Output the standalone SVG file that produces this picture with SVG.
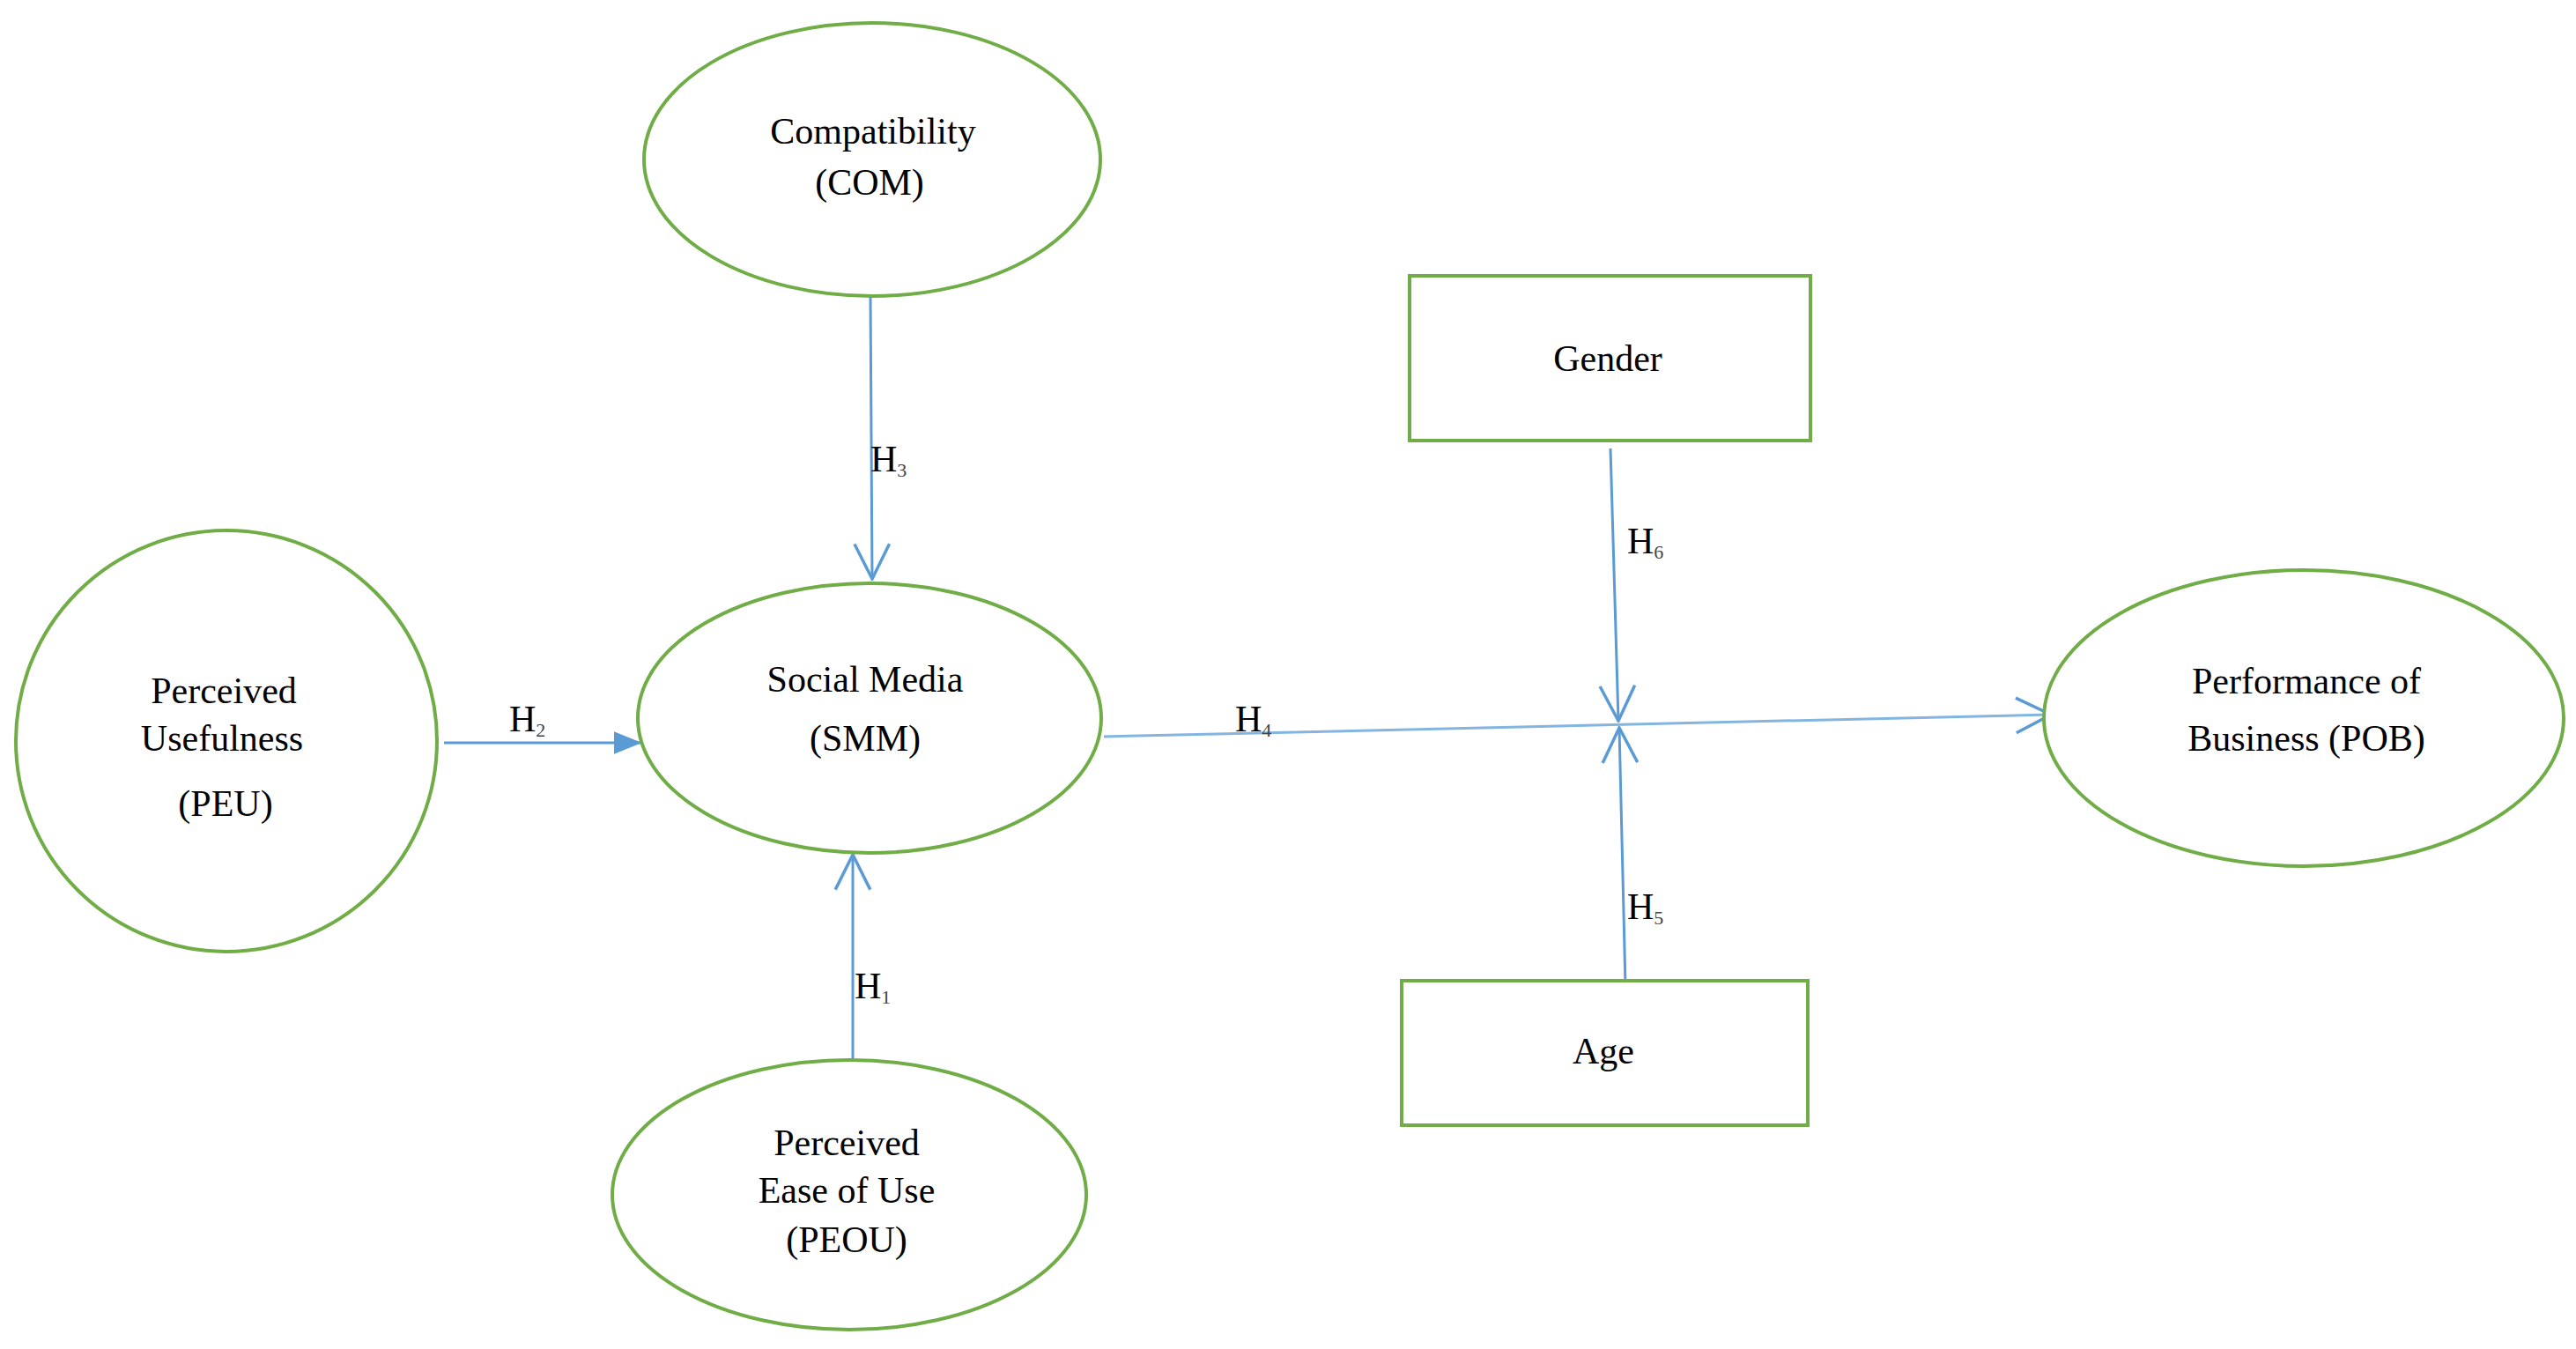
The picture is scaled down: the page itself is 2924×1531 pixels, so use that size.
<svg xmlns="http://www.w3.org/2000/svg" width="2924" height="1531" viewBox="0 0 2924 1531">
<style>
.n{fill:#fff;stroke:#70ad47;stroke-width:4}
.t{font-family:"Liberation Serif",serif;font-size:42px;fill:#000;text-anchor:middle}
.h{font-family:"Liberation Serif",serif;font-size:42px;fill:#000}
.s{font-size:22px;fill:#444}
.c{stroke:#5b9bd5;stroke-width:3;fill:none}
</style>
<defs>
<marker id="o" viewBox="0 0 20 20" refX="19" refY="10" markerWidth="44" markerHeight="44" markerUnits="userSpaceOnUse" orient="auto"><path d="M1,1 L19,10 L1,19" fill="none" stroke="#5b9bd5" stroke-width="1.6"/></marker>
<marker id="f" viewBox="0 0 20 20" refX="19" refY="10" markerWidth="32" markerHeight="32" markerUnits="userSpaceOnUse" orient="auto"><path d="M0,2 L20,10 L0,18 Z" fill="#5b9bd5"/></marker>
</defs>
<rect width="2924" height="1531" fill="#fff"/>
<g id="connectors">
<line class="c" x1="988" y1="336" x2="990" y2="657" marker-end="url(#o)"/>
<line class="c" x1="504" y1="843" x2="727" y2="843" stroke-width="4" marker-end="url(#f)"/>
<line class="c" x1="968" y1="1207" x2="968" y2="970" marker-end="url(#o)"/>
<line class="c" x1="1253" y1="836" x2="2328" y2="811" stroke-width="5" stroke-opacity="0.75" marker-end="url(#o)"/>
<line class="c" x1="1828" y1="509" x2="1837" y2="818" marker-end="url(#o)"/>
<line class="c" x1="1845" y1="1119" x2="1838" y2="826" marker-end="url(#o)"/>
</g>
<g id="labels">
<text class="h" x="988" y="535">H<tspan class="s" dy="6">3</tspan></text>
<text class="h" x="578" y="830">H<tspan class="s" dy="6">2</tspan></text>
<text class="h" x="970" y="1133">H<tspan class="s" dy="6">1</tspan></text>
<text class="h" x="1402" y="830">H<tspan class="s" dy="6">4</tspan></text>
<text class="h" x="1847" y="628">H<tspan class="s" dy="6">6</tspan></text>
<text class="h" x="1847" y="1043">H<tspan class="s" dy="6">5</tspan></text>
</g>
<g id="com"><ellipse class="n" cx="990" cy="181" rx="259" ry="155"/><text class="t" x="991" y="163">Compatibility</text><text class="t" x="987" y="221">(COM)</text></g>
<g id="gender"><rect class="n" x="1600" y="313" width="455" height="187"/><text class="t" x="1825" y="421">Gender</text></g>
<g id="peu"><ellipse class="n" cx="257" cy="841" rx="239" ry="239"/><text class="t" x="254" y="798">Perceived</text><text class="t" x="252" y="852">Usefulness</text><text class="t" x="256" y="926">(PEU)</text></g>
<g id="smm"><ellipse class="n" cx="987" cy="815" rx="263" ry="153"/><text class="t" x="982" y="785">Social Media</text><text class="t" x="982" y="852">(SMM)</text></g>
<g id="pob"><ellipse class="n" cx="2615" cy="815" rx="295" ry="168"/><text class="t" x="2618" y="787">Performance of</text><text class="t" x="2618" y="852">Business (POB)</text></g>
<g id="age"><rect class="n" x="1591" y="1113" width="461" height="164"/><text class="t" x="1820" y="1207" font-size="52">Age</text></g>
<g id="peou"><ellipse class="n" cx="964" cy="1356" rx="269" ry="153"/><text class="t" x="961" y="1311">Perceived</text><text class="t" x="961" y="1365">Ease of Use</text><text class="t" x="961" y="1421">(PEOU)</text></g>
</svg>
